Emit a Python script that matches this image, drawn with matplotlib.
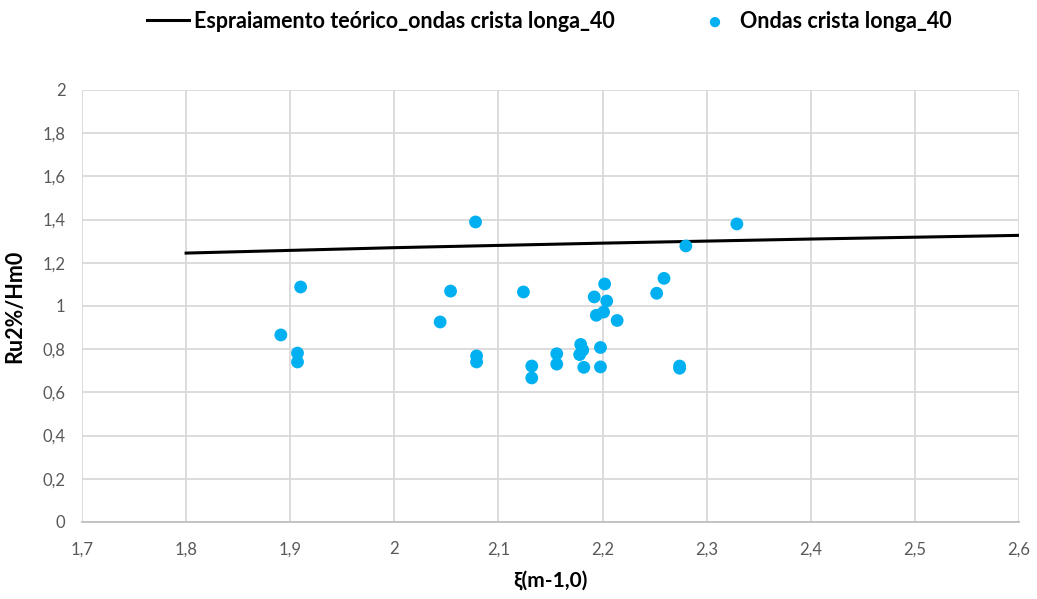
import matplotlib
matplotlib.use("Agg")
import matplotlib.pyplot as plt
from matplotlib.ticker import MultipleLocator, FuncFormatter

plt.rcParams['font.family'] = ['Lato', 'DejaVu Sans']

# Theoretical run-up curve
theory_xi = [1.8, 2.0, 2.2, 2.4, 2.6]
theory_ru = [1.245, 1.270, 1.291, 1.310, 1.327]

# Measured run-up, long-crested waves
obs_xi = [1.891, 1.907, 1.907, 1.910, 2.044, 2.054, 2.078, 2.079, 2.079,
          2.124, 2.132, 2.132, 2.156, 2.156, 2.179, 2.181, 2.178, 2.182,
          2.192, 2.194, 2.198, 2.198, 2.202, 2.201, 2.204, 2.214, 2.252,
          2.259, 2.274, 2.274, 2.280, 2.329]
obs_ru = [0.866, 0.782, 0.741, 1.088, 0.926, 1.069, 1.389, 0.769, 0.741,
          1.065, 0.722, 0.667, 0.779, 0.731, 0.822, 0.796, 0.775, 0.716,
          1.042, 0.957, 0.808, 0.718, 1.102, 0.972, 1.023, 0.933, 1.059,
          1.128, 0.722, 0.712, 1.278, 1.380]

line_label = "Espraiamento teórico_ondas crista longa_40"
dots_label = "Ondas crista longa_40"

fig = plt.figure(figsize=(10.37, 5.99), dpi=100)
ax = fig.add_axes([82/1037, 77/599, (1019-82)/1037, (522-90)/599])

ax.plot(theory_xi, theory_ru, color='black', lw=2.2, label=line_label, zorder=3)
ax.scatter(obs_xi, obs_ru, s=85, color='#00B0F0', edgecolors='none',
           label=dots_label, zorder=4)

ax.set_xlim(1.7, 2.6)
ax.set_ylim(0, 2)
ax.xaxis.set_major_locator(MultipleLocator(0.1))
ax.yaxis.set_major_locator(MultipleLocator(0.2))

def comma(v, pos):
    s = f"{v:.1f}".rstrip('0').rstrip('.')
    return s.replace('.', ',')

ax.xaxis.set_major_formatter(FuncFormatter(comma))
ax.yaxis.set_major_formatter(FuncFormatter(comma))

ax.grid(True, color='#D9D9D9', lw=1.3, zorder=0)
ax.set_axisbelow(True)
for side in ['top', 'right', 'left']:
    ax.spines[side].set_visible(False)
ax.spines['bottom'].set_color('#BFBFBF')
ax.spines['bottom'].set_linewidth(1.3)
ax.tick_params(length=0, labelsize=12, colors='#595959', pad=12)
ax.tick_params(axis='x', pad=14)

ax.set_xlabel("ξ(m-1,0)", fontsize=15, fontweight='bold', labelpad=10)
ax.set_ylabel("Ru2%/Hm0", fontsize=15.5, fontweight='bold', labelpad=12)

fig.legend(loc='upper center', bbox_to_anchor=(0.53, 1.0), ncol=2,
           frameon=False, columnspacing=3.7, borderaxespad=0.1,
           handlelength=1.95, handletextpad=0.2, markerscale=0.8,
           prop={'weight': 'bold', 'size': 15.5})

fig.savefig("out.png", dpi=100)
